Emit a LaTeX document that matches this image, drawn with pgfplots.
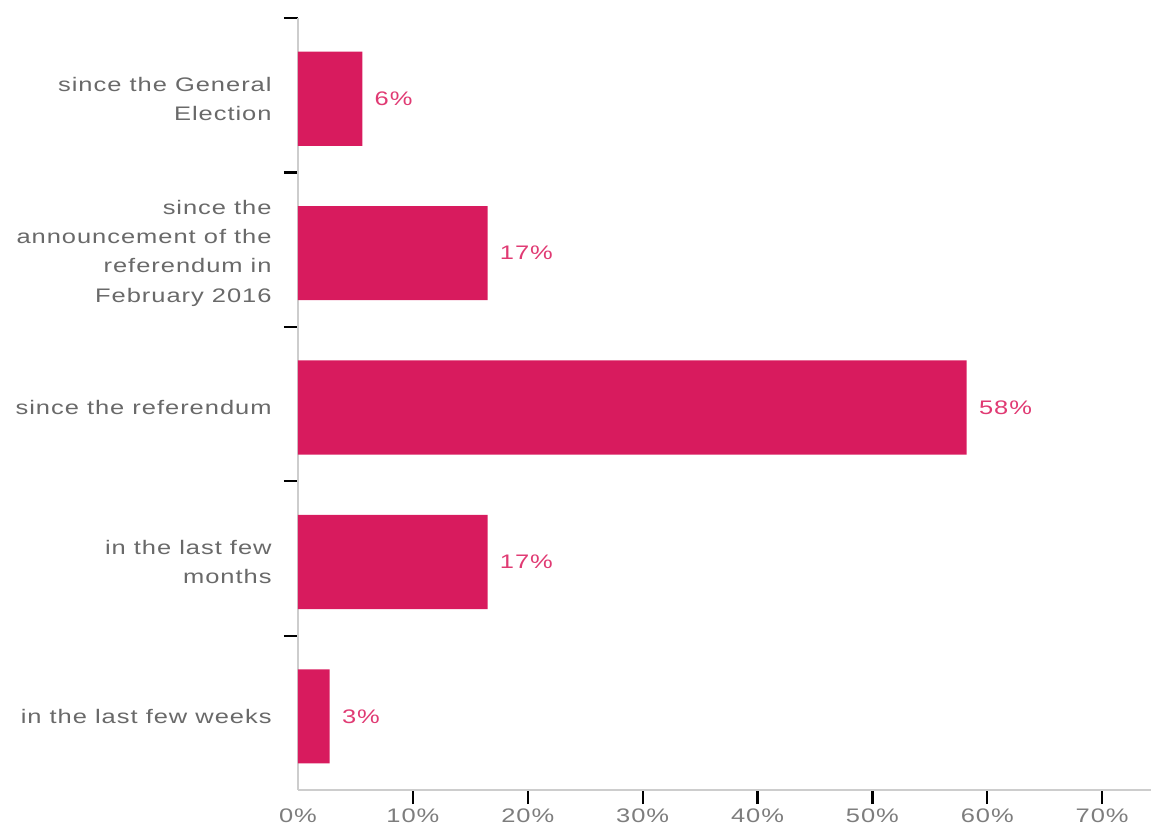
\documentclass[border=0pt]{standalone}
\usepackage{pgfplots}
\pgfplotsset{compat=1.18}
\usepackage{fontspec}
\setmainfont{Liberation Sans}[FakeStretch=1.3, LetterSpace=5]
\definecolor{barcol}{RGB}{216,27,94}
\definecolor{labcol}{RGB}{224,58,115}
\definecolor{txtcol}{RGB}{105,105,105}
\definecolor{ticktxt}{RGB}{125,125,125}
\definecolor{axcol}{RGB}{205,205,205}
\begin{document}
\begin{tikzpicture}
\begin{axis}[
  at={(0,0)}, anchor=south west,
  scale only axis,
  width=426.5pt, height=386pt,
  xbar, bar width=0.61,
  xmin=0, xmax=74.25,
  ymin=-0.5, ymax=4.5,
  y dir=reverse,
  axis lines*=left,
  axis line style={-, draw=axcol, line width=0.8pt},
  tick align=outside,
  major tick length=7pt,
  xtick={10,20,...,70},
  xtick style={draw=black, line width=1.1pt},
  xticklabel={\pgfmathprintnumber{\tick}\%},
  x tick label style={text=ticktxt, yshift=1pt},
  extra x ticks={0},
  extra x tick labels={0\%},
  extra x tick style={xtick style={draw=none}},
  ytick={-0.5,0.5,1.5,2.5,3.5},
  yticklabels={},
  ytick style={draw=black, line width=1.1pt},
  extra y ticks={0.023,1.023,2.023,3.023,4.023},
  extra y tick labels={{since the General\\Election},{since the\\announcement of the\\referendum in\\February 2016},{since the referendum},{in the last few\\months},{in the last few weeks}},
  extra y tick style={ytick style={draw=none}, major tick length=0pt, y tick label style={align=right, text=txtcol, inner sep=0pt, xshift=-13pt}},
  /pgf/number format/assume math mode=true,
  font=\fontsize{9.8}{14.7}\selectfont,
  nodes near coords={\pgfplotspointmeta\%},
  point meta=explicit symbolic,
  nodes near coords style={anchor=west, inner sep=0pt, xshift=6pt, text=labcol},
  clip=false,
]
\addplot[fill=barcol, draw=none] table[x=v, y=c, meta=l] {
c v l
0.023 5.6 6
1.023 16.5 17
2.023 58.2 58
3.023 16.5 17
4.023 2.76 3
};
\end{axis}
\pgfresetboundingbox
\path (-149pt,-19pt) rectangle (426.5pt,395pt);
\end{tikzpicture}
\end{document}
